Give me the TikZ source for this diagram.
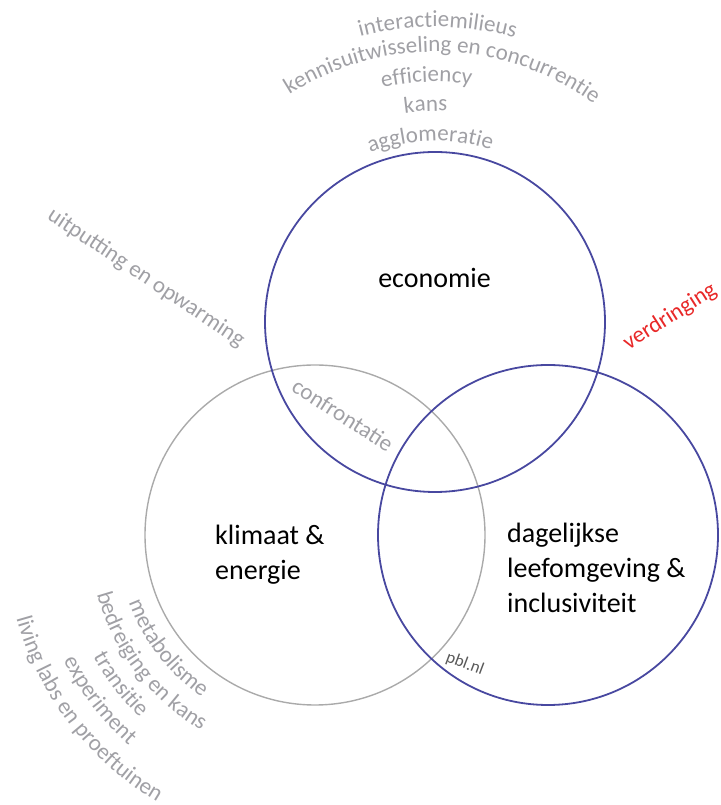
\documentclass[tikz,border=0pt]{standalone}
\usepackage{fontspec}
\setmainfont{Carlito}
\usetikzlibrary{decorations.text}
\definecolor{pblblue}{RGB}{72,72,160}
\definecolor{pblgrey}{RGB}{170,170,170}
\definecolor{txtgrey}{RGB}{160,160,165}
\definecolor{pblred}{RGB}{232,40,40}
\newcommand{\grtxt}{\fontsize{23}{28}\selectfont}

\begin{document}
\begin{tikzpicture}[x=1pt, y=1pt,
	ring/.style={circle, minimum size=340pt, inner sep=0pt, line width=1.8pt},
	mainlbl/.style={font=\fontsize{28}{35}\selectfont, inner sep=0pt, align=left},
	sidelbl/.style={font=\grtxt, text=txtgrey, inner sep=0pt},
	arctext/.style={decorate, decoration={text along path, text align=center, text color=txtgrey, text={|\grtxt|#1}}}]
			\useasboundingbox (0,0) rectangle (720,805);
			\node[ring, draw=pblgrey, line width=1.4pt] (klimaat) at (315,270) {};
			\node[ring, draw=pblblue] (econ) at (435,483) {};
			\node[ring, draw=pblblue] (dagelijks) at (548,270) {};
			\node[mainlbl, anchor=base] (econlbl) at (434.5,517) {economie};
			\node[mainlbl, anchor=base west] (klimlbl) at (215,225) {klimaat \&\\energie};
			\node[mainlbl, anchor=base west] (daglbl) at (507,192) {dagelijkse\\leefomgeving \&\\inclusiviteit};
			\path[arctext=interactiemilieus] ([shift={(149.5:295)}]econ.center) arc[start angle=149.5, end angle=29.5, radius=295];
			\path[arctext=kennisuitwisseling en concurrentie] ([shift={(148.3:270)}]econ.center) arc[start angle=148.3, end angle=28.3, radius=270];
			\path[arctext=efficiency] ([shift={(152:240)}]econ.center) arc[start angle=152, end angle=32, radius=240];
			\path[arctext=kans] ([shift={(152.5:211)}]econ.center) arc[start angle=152.5, end angle=32.5, radius=211];
			\path[arctext=agglomeratie] ([shift={(151.5:181)}]econ.center) arc[start angle=151.5, end angle=31.5, radius=181];
			\path[arctext=metabolisme] ([shift={(157.5:198)}]klimaat.center) arc[start angle=157.5, end angle=277.5, radius=198];
			\path[arctext=bedreiging en kans] ([shift={(157.5:226)}]klimaat.center) arc[start angle=157.5, end angle=277.5, radius=226];
			\path[arctext=transitie] ([shift={(157.5:253)}]klimaat.center) arc[start angle=157.5, end angle=277.5, radius=253];
			\path[arctext=experiment] ([shift={(157.5:281)}]klimaat.center) arc[start angle=157.5, end angle=277.5, radius=281];
			\path[arctext=living labs en proeftuinen] ([shift={(157.5:310)}]klimaat.center) arc[start angle=157.5, end angle=277.5, radius=310];
			\node[sidelbl, rotate=-33.7] (uitput) at (146,527) {uitputting en opwarming};
			\node[sidelbl, rotate=-32.6] (confr) at (343,390) {confrontatie};
			\node[sidelbl, text=pblred, rotate=32.4] (verdr) at (670,488) {verdringing};
			\node[font=\fontsize{17}{20}\selectfont, text=black!65, rotate=-20.6, inner sep=0pt] (pbl) at (465,141) {pbl.nl};
			\end{tikzpicture}
\end{document}
